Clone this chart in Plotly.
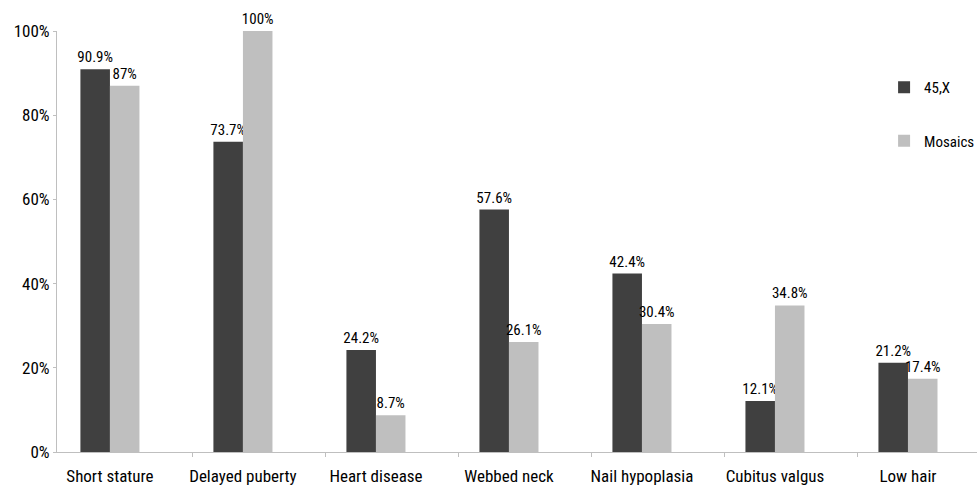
import plotly.graph_objects as go

categories = ["Short stature", "Delayed puberty", "Heart disease", "Webbed neck",
              "Nail hypoplasia", "Cubitus valgus", "Low hair"]
series_names = ["45,X", "Mosaics"]
values_45x = [90.9, 73.7, 24.2, 57.6, 42.4, 12.1, 21.2]
values_mosaics = [87, 100, 8.7, 26.1, 30.4, 34.8, 17.4]
y_tick_values = [0, 20, 40, 60, 80, 100]
y_tick_labels = ["0%", "20%", "40%", "60%", "80%", "100%"]

colors = ["#404040", "#bfbfbf"]
FONT = "Roboto Condensed, Liberation Sans Narrow, Arial Narrow, sans-serif"

x_pos = list(range(len(categories)))

fig = go.Figure()
for name, vals, col in zip(series_names, [values_45x, values_mosaics], colors):
    fig.add_trace(go.Bar(
        x=x_pos, y=vals, name=name, marker=dict(color=col, line=dict(width=0)),
        text=[f"{v:g}%" for v in vals], textposition="outside",
        textfont=dict(family=FONT, size=15, color="#000000"),
        constraintext="none", cliponaxis=False,
        legendgroup=name,
    ))

fig.update_layout(
    width=977, height=489,
    margin=dict(l=57, r=0, t=31, b=37, autoexpand=False),
    paper_bgcolor="white", plot_bgcolor="white",
    barmode="group", bargap=0.556, bargroupgap=0,
    font=dict(family=FONT, color="#000000"),
    showlegend=True,
    legend=dict(x=0.899, y=0.905, xanchor="left", yanchor="top",
                font=dict(family=FONT, size=15, color="#000000"),
                tracegroupgap=31, bgcolor="rgba(0,0,0,0)"),
    xaxis=dict(
        range=[-0.398, 6.519], tickmode="array", tickvals=x_pos, ticktext=categories,
        ticks="", showgrid=False, zeroline=False, ticklabelstandoff=9,
        showline=True, linecolor="#bfbfbf", linewidth=1,
        tickfont=dict(family=FONT, size=17, color="#000000"),
        minor=dict(tickmode="array", tickvals=[k + 0.617 for k in range(6)],
                   ticks="outside", ticklen=4, tickcolor="#bfbfbf", showgrid=False),
    ),
    yaxis=dict(
        range=[0, 100], tickmode="array", tickvals=y_tick_values, ticktext=y_tick_labels,
        ticks="outside", ticklen=3, tickcolor="#bfbfbf", showgrid=False, zeroline=False,
        showline=True, linecolor="#bfbfbf", linewidth=1,
        tickfont=dict(family=FONT, size=17, color="#000000"),
    ),
)

fig.write_html("out.html", config={"displayModeBar": False},
               post_script="document.body.style.margin='0';")
